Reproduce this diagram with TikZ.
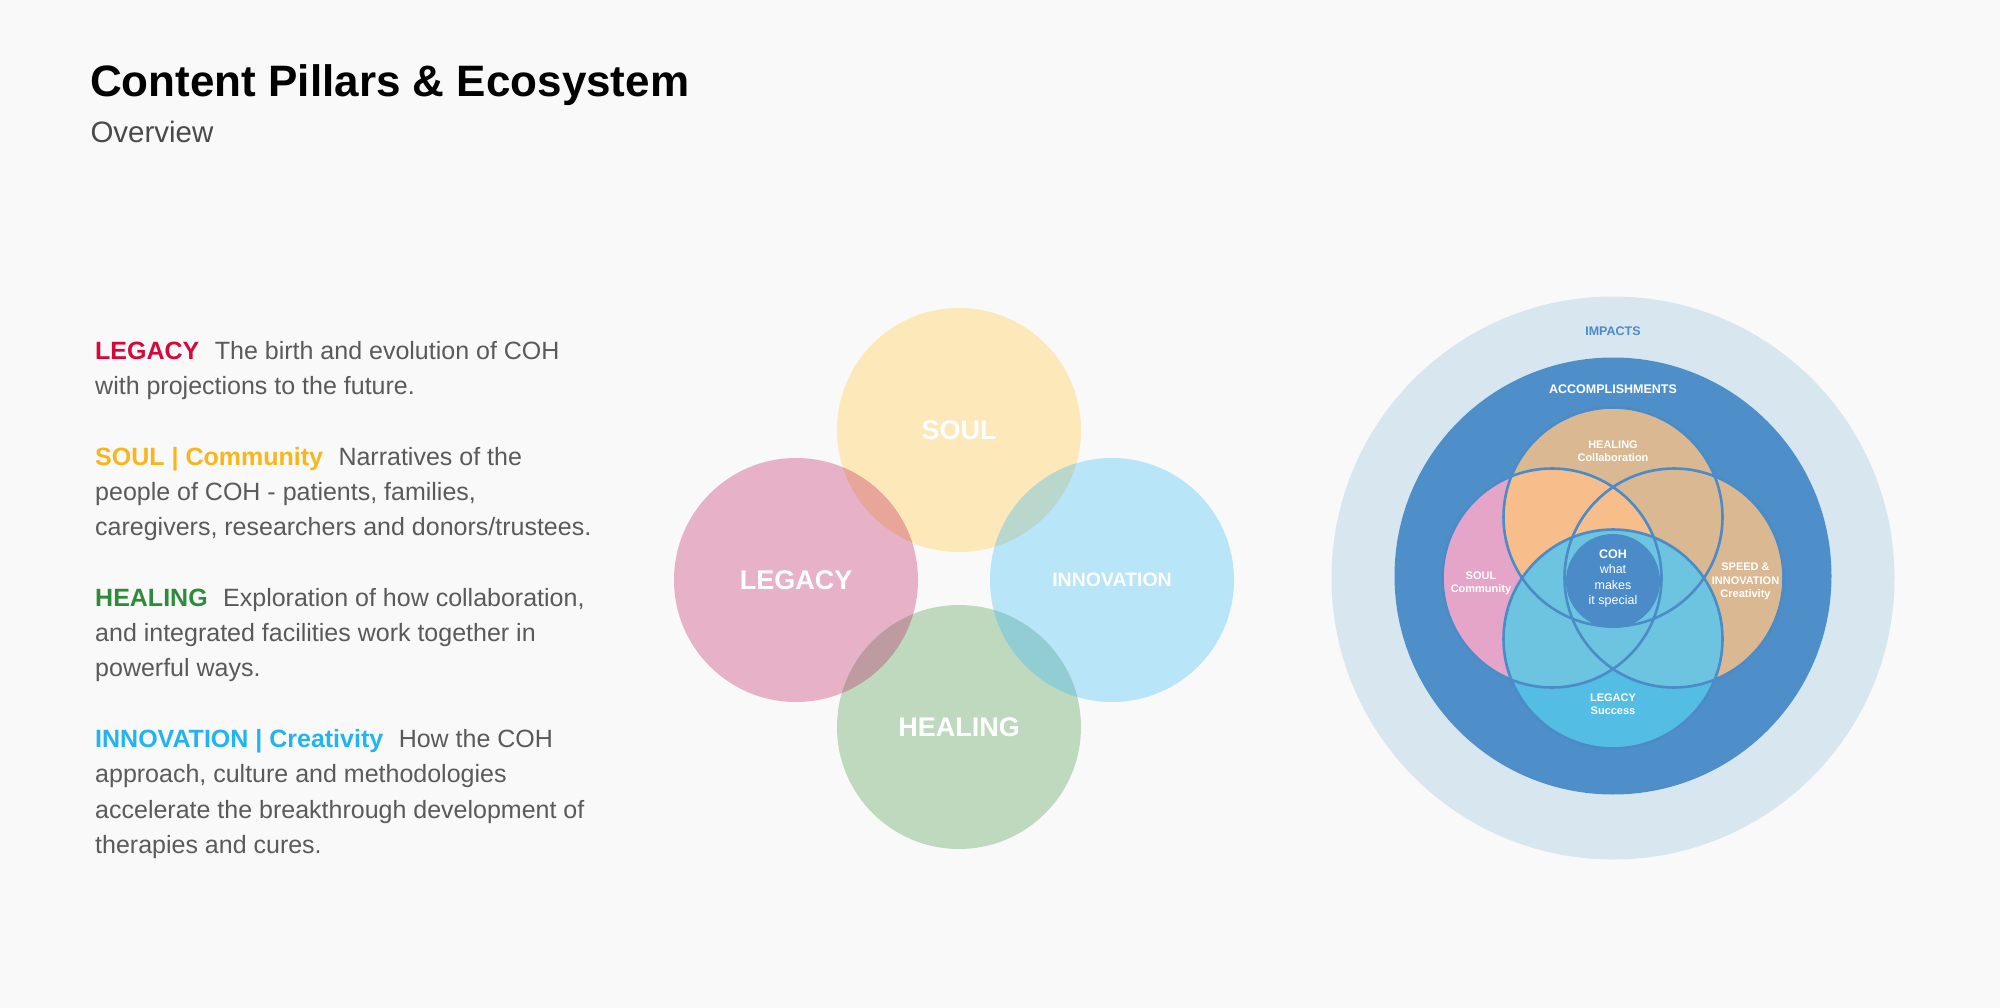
\documentclass[tikz,border=0pt]{standalone}
\usepackage{fontspec}
\setmainfont{Liberation Sans}
\definecolor{bgc}{HTML}{F9F9F9}
\definecolor{bodygray}{HTML}{5A5A5A}
\definecolor{subgray}{HTML}{4A4A4A}
\definecolor{legred}{HTML}{D4093A}
\definecolor{soulyel}{HTML}{F8B61B}
\definecolor{healgreen}{HTML}{2E8B3B}
\definecolor{innblue}{HTML}{22B4F0}
% middle venn
\definecolor{soulc}{HTML}{FDE8B9}
\definecolor{legc}{HTML}{E7B2C8}
\definecolor{innc}{HTML}{B8E5F8}
\definecolor{healc}{HTML}{BED9BE}
\definecolor{slc}{HTML}{E8A69B}
\definecolor{sic}{HTML}{B9D7CD}
\definecolor{hlc}{HTML}{BE9BA0}
\definecolor{hic}{HTML}{93CDD4}
% right diagram
\definecolor{impc}{HTML}{D8E6F0}
\definecolor{accc}{HTML}{4F8FC9}
\definecolor{outl}{HTML}{4A8BC8}
\definecolor{tanc}{HTML}{DAB892}
\definecolor{pinkc}{HTML}{E4A5C8}
\definecolor{orac}{HTML}{F7BE8C}
\definecolor{cyana}{HTML}{53BDE4}
\definecolor{cyanb}{HTML}{6DC4E0}
\definecolor{cohc}{HTML}{4A8BC8}
\begin{document}
\begin{tikzpicture}[x=1pt,y=-1pt,
  bodyline/.style={anchor=base west, inner sep=0pt, text=bodygray,
    font=\fontsize{25}{29}\selectfont},
  pillar/.style={circle, minimum size=244pt, inner sep=0pt, text=white,
    font=\bfseries\fontsize{27}{30}\selectfont},
  ring/.style={circle, inner sep=0pt},
  smalllab/.style={align=center, inner sep=0pt, text=white,
    font=\bfseries\fontsize{11}{13}\selectfont},
  vline/.style={draw=outl, line width=2.6pt}
]
\useasboundingbox (0,0) rectangle (2000,1008);
\fill[bgc] (0,0) rectangle (2000,1008);

% ---------- titles ----------
\node[anchor=base west, inner sep=0pt, text=black,
  font=\bfseries\fontsize{44}{50}\selectfont] (title) at (90,96.7) {Content Pillars \& Ecosystem};
\node[anchor=base west, inner sep=0pt, text=subgray,
  font=\fontsize{29.5}{34}\selectfont] (sub) at (90.3,142.7) {Overview};

% ---------- body text ----------
\node[bodyline] (l1) at (95,359.3) {{\color{legred}\bfseries LEGACY}\hspace{15.5pt}The birth and evolution of COH};
\node[bodyline] (l2) at (95,394.6) {with projections to the future.};
\node[bodyline] (l3) at (95,465.2) {{\color{soulyel}\bfseries SOUL | Community}\hspace{15.5pt}Narratives of the};
\node[bodyline] (l4) at (95,500.5) {people of COH - patients, families,};
\node[bodyline] (l5) at (95,535.8) {caregivers, researchers and donors/trustees.};
\node[bodyline] (l6) at (95,606.3) {{\color{healgreen}\bfseries HEALING}\hspace{15.5pt}Exploration of how collaboration,};
\node[bodyline] (l7) at (95,641.6) {and integrated facilities work together in};
\node[bodyline] (l8) at (95,676.9) {powerful ways.};
\node[bodyline] (l9) at (95,747.5) {{\color{innblue}\bfseries INNOVATION | Creativity}\hspace{15.5pt}How the COH};
\node[bodyline] (l10) at (95,782.8) {approach, culture and methodologies};
\node[bodyline] (l11) at (95,818.1) {accelerate the breakthrough development of};
\node[bodyline] (l12) at (95,853.4) {therapies and cures.};

% ---------- middle venn ----------
\node[pillar, fill=soulc] (soul) at (959,430) {SOUL};
\node[pillar, fill=legc] (legacy) at (796,580) {LEGACY};
\node[pillar, fill=innc, font=\bfseries\fontsize{19.5}{22}\selectfont] (innov) at (1112,580) {INNOVATION};
\node[pillar, fill=healc] (healing) at (959,727) {HEALING};
\begin{scope}
  \clip (soul.center) circle[radius=122pt];
  \fill[slc] (legacy.center) circle[radius=122pt];
  \fill[sic] (innov.center) circle[radius=122pt];
\end{scope}
\begin{scope}
  \clip (healing.center) circle[radius=122pt];
  \fill[hlc] (legacy.center) circle[radius=122pt];
  \fill[hic] (innov.center) circle[radius=122pt];
\end{scope}

% ---------- right diagram ----------
\node[ring, minimum size=563pt, fill=impc] (impacts) at (1613,578) {};
\node[ring, minimum size=437pt, fill=accc] (accomp) at (1613,576) {};
\node[ring, minimum size=219pt, fill=tanc] (vtop) at (1613,517) {};
\node[ring, minimum size=219pt, fill=tanc] (vright) at (1674,578) {};
\node[ring, minimum size=219pt, fill=pinkc] (vleft) at (1552,578) {};
\begin{scope}
  \clip (vtop.center) circle[radius=109.5pt];
  \fill[orac] (vleft.center) circle[radius=109.5pt];
\end{scope}
\node[ring, minimum size=219pt, fill=cyana] (vbot) at (1613,639) {};
\begin{scope}
  \clip (vbot.center) circle[radius=109.5pt];
  \fill[cyanb] (vtop.center) circle[radius=109.5pt];
  \fill[cyanb] (vleft.center) circle[radius=109.5pt];
  \fill[cyanb] (vright.center) circle[radius=109.5pt];
\end{scope}
\node[ring, minimum size=94pt, fill=cohc] (coh) at (1613,581) {};
\draw[vline] (vtop.center) circle[radius=109.5pt];
\draw[vline] (vleft.center) circle[radius=109.5pt];
\draw[vline] (vright.center) circle[radius=109.5pt];
\draw[vline] (vbot.center) circle[radius=109.5pt];

\node[inner sep=0pt, text=outl, font=\bfseries\fontsize{12.5}{14}\selectfont] (implab) at (1613,331) {IMPACTS};
\node[inner sep=0pt, text=white, font=\bfseries\fontsize{12.5}{14}\selectfont] (acclab) at (1613,389) {ACCOMPLISHMENTS};
\node[smalllab] (healab) at (1613,451.5) {HEALING\\Collaboration};
\node[smalllab] (soullab) at (1481,583.5) {SOUL\\Community};
\node[smalllab, font=\bfseries\fontsize{11}{13.5}\selectfont] (speedlab) at (1745.5,581.6) {SPEED \&\\INNOVATION\\Creativity};
\node[smalllab] (leglab) at (1613,704.5) {LEGACY\\Success};
\node[align=center, inner sep=0pt, text=white, font=\fontsize{12.5}{15.3}\selectfont] (cohlab) at (1613,578.3) {\textbf{COH}\\what\\makes\\it special};
\end{tikzpicture}
\end{document}
